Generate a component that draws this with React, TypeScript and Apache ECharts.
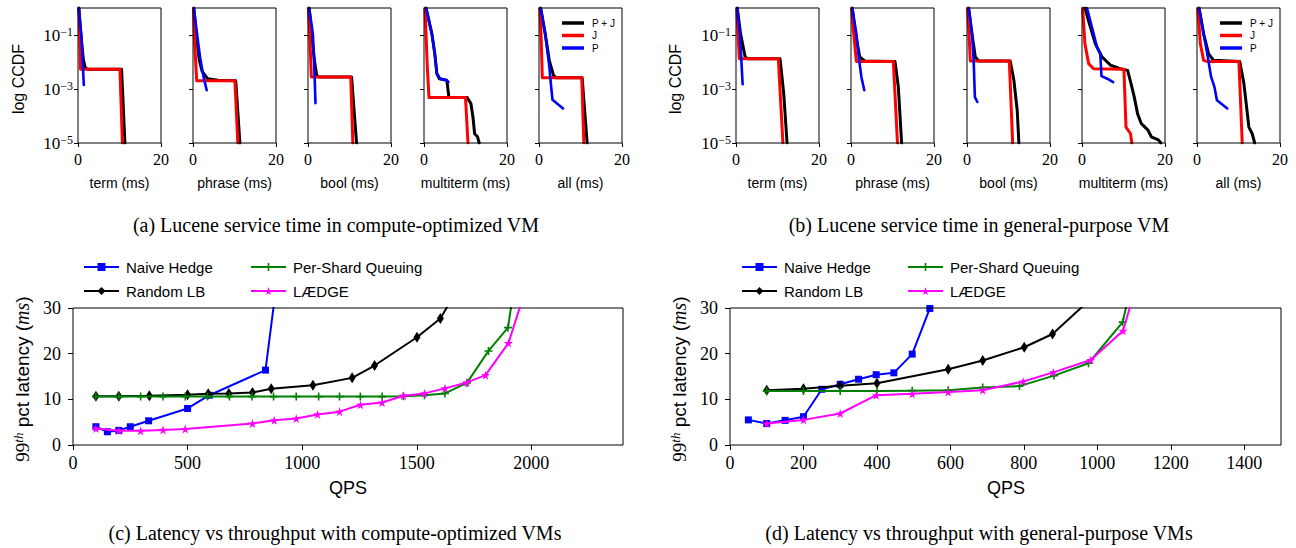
import React, { useEffect, useRef } from "react";
import * as echarts from "echarts";

// ---------- (a) compute-optimized VM : CCDF points [ms, probability] ----------
const aTermPJ = [[0.2, 1], [0.7, 0.1], [1.3, 0.012], [1.8, 0.0058], [2.5, 0.0054], [10.5, 0.0054], [11.3, 0.00001]];
const aTermJ = [[0.2, 1], [0.4, 0.1], [0.6, 0.0054], [10.1, 0.0054], [10.7, 0.00001]];
const aTermP = [[0.2, 1], [0.8, 0.1], [1.2, 0.006], [1.4, 0.0014]];

const aPhrasePJ = [[0.2, 1], [0.8, 0.1], [1.5, 0.012], [2.2, 0.0045], [3.5, 0.0024], [6, 0.0021], [10.3, 0.002], [11.3, 0.00001]];
const aPhraseJ = [[0.1, 1], [0.4, 0.05], [0.9, 0.002], [10.1, 0.002], [10.8, 0.00001]];
const aPhraseP = [[0.2, 1], [1.0, 0.1], [1.7, 0.015], [2.5, 0.003], [3.3, 0.0009]];

const aBoolPJ = [[0.25, 1], [0.9, 0.1], [1.6, 0.01], [2.1, 0.0032], [2.6, 0.0028], [10.5, 0.0028], [11.7, 0.00001]];
const aBoolJ = [[0.1, 1], [0.5, 0.05], [0.8, 0.0028], [10.3, 0.0028], [10.8, 0.00001]];
const aBoolP = [[0.3, 1], [1.2, 0.1], [1.6, 0.0028], [1.8, 0.0003]];

const aMultiPJ = [[0.5, 1], [1.9, 0.11], [2.6, 0.02], [3.1, 0.0037], [3.7, 0.0024], [5.5, 0.0021], [6.0, 0.0005], [10.4, 0.00048], [11.3, 0.00029], [11.8, 0.00009], [12.2, 0.000022], [12.9, 0.000017], [13.3, 0.00001]];
const aMultiJ = [[0.24, 1], [0.5, 0.1], [0.8, 0.0065], [1.2, 0.00048], [10.0, 0.00048], [10.6, 0.00001]];
const aMultiP = [[0.5, 1], [1.9, 0.11], [2.6, 0.02], [3.1, 0.0037], [3.9, 0.0024], [5.5, 0.0021], [5.9, 0.0018]];

const aAllPJ = [[0.4, 1], [1.5, 0.11], [2.5, 0.011], [3.5, 0.0032], [4.2, 0.0026], [10.4, 0.0026], [11.6, 0.00001]];
const aAllJ = [[0.2, 1], [0.5, 0.1], [0.8, 0.0026], [10.3, 0.0026], [10.8, 0.00001]];
const aAllP = [[0.4, 1], [1.5, 0.11], [2.5, 0.0065], [2.85, 0.0016], [3.25, 0.0004], [5.8, 0.00019]];

// ---------- (b) general-purpose VM ----------
const bTermPJ = [[0.3, 1], [1.1, 0.11], [2.2, 0.0155], [2.8, 0.0133], [10.6, 0.0133], [11.5, 0.00068], [12.3, 0.00001]];
const bTermJ = [[0.2, 1], [0.5, 0.1], [0.8, 0.0133], [10.2, 0.0133], [11.3, 0.00001]];
const bTermP = [[0.3, 1], [0.95, 0.11], [1.6, 0.0015]];

const bPhrasePJ = [[0.3, 1], [1.1, 0.11], [2.1, 0.0155], [3.3, 0.011], [10.6, 0.0105], [11.4, 0.0012], [12.2, 0.00001]];
const bPhraseJ = [[0.15, 1], [0.65, 0.11], [1.3, 0.0105], [10.2, 0.0105], [11.2, 0.00001]];
const bPhraseP = [[0.3, 1], [1.3, 0.11], [1.95, 0.012], [2.5, 0.0028], [3.2, 0.0009]];

const bBoolPJ = [[0.4, 1], [1.2, 0.11], [2.0, 0.0155], [2.8, 0.011], [10.4, 0.011], [11.3, 0.0021], [12.1, 0.00016], [12.5, 0.00001]];
const bBoolJ = [[0.15, 1], [0.5, 0.1], [0.8, 0.011], [10.2, 0.011], [11.0, 0.00001]];
const bBoolP = [[0.4, 1], [1.2, 0.11], [1.6, 0.012], [1.9, 0.0005], [2.5, 0.00033]];

const bMultiPJ = [[0.7, 1], [2.0, 0.2], [3.2, 0.048], [4.8, 0.0155], [6.9, 0.0076], [9.3, 0.0056], [11.0, 0.0049], [11.8, 0.0016], [12.6, 0.0005], [13.4, 0.00012], [14.3, 0.000052], [15.9, 0.00003], [16.7, 0.000017], [18.4, 0.000013], [19.0, 0.00001]];
const bMultiJ = [[0.15, 1], [0.7, 0.048], [1.6, 0.0087], [2.8, 0.0056], [10.1, 0.0054], [10.6, 0.000039], [11.7, 0.000022], [12.0, 0.00001]];
const bMultiP = [[1.2, 1], [2.8, 0.11], [3.6, 0.036], [4.4, 0.02], [4.7, 0.003], [6.1, 0.0024], [7.5, 0.0018]];

const bAllPJ = [[0.5, 1], [1.6, 0.11], [2.8, 0.02], [4.0, 0.0115], [10.3, 0.0105], [11.3, 0.0016], [12.5, 0.000039], [13.3, 0.000022], [13.9, 0.00001]];
const bAllJ = [[0.2, 1], [0.8, 0.048], [1.6, 0.0115], [2.4, 0.0105], [10.1, 0.0105], [10.9, 0.00001]];
const bAllP = [[0.5, 1], [1.6, 0.11], [2.6, 0.0155], [3.4, 0.0028], [4.2, 0.0012], [4.8, 0.00038], [7.3, 0.00019]];

// ---------- (c) latency vs QPS, compute-optimized ----------
const cHedgeQps = [100, 150, 200, 250, 330, 500, 595, 840, 900];
const cHedgeLat = [4.0, 2.9, 3.2, 4.0, 5.3, 8.0, 10.9, 16.4, 40];
const cRandomQps = [100, 200, 333, 500, 590, 680, 783, 865, 1047, 1218, 1316, 1501, 1603, 1700];
const cRandomLat = [10.7, 10.7, 10.8, 11.0, 11.2, 11.3, 11.5, 12.3, 13.1, 14.7, 17.4, 23.6, 27.7, 36];
const cShardQps = [100, 200, 295, 393, 490, 587, 683, 781, 875, 974, 1072, 1163, 1254, 1349, 1442, 1534, 1623, 1719, 1813, 1898, 1950];
const cShardLat = [10.6, 10.6, 10.6, 10.6, 10.6, 10.6, 10.6, 10.6, 10.6, 10.6, 10.6, 10.6, 10.6, 10.6, 10.7, 10.9, 11.3, 13.6, 20.6, 25.7, 43];
const cLaedgeQps = [100, 200, 295, 393, 490, 783, 878, 974, 1067, 1163, 1254, 1349, 1442, 1534, 1623, 1719, 1800, 1900, 2000];
const cLaedgeLat = [3.6, 3.1, 3.1, 3.3, 3.5, 4.7, 5.4, 5.8, 6.7, 7.3, 8.8, 9.3, 10.8, 11.3, 12.4, 13.7, 15.3, 22.3, 38];

// ---------- (d) latency vs QPS, general-purpose ----------
const dHedgeQps = [50, 100, 150, 200, 250, 300, 350, 398, 446, 496, 544, 600];
const dHedgeLat = [5.5, 4.7, 5.4, 6.2, 12.2, 13.3, 14.4, 15.4, 15.8, 19.9, 29.9, 60];
const dRandomQps = [100, 200, 300, 400, 594, 688, 801, 878, 1050];
const dRandomLat = [12.0, 12.3, 13.0, 13.5, 16.6, 18.5, 21.4, 24.3, 37];
const dShardQps = [100, 200, 300, 400, 496, 594, 688, 788, 882, 976, 1069, 1100];
const dShardLat = [11.8, 11.8, 11.8, 11.8, 11.9, 12.0, 12.6, 12.9, 15.2, 17.9, 26.9, 38];
const dLaedgeQps = [100, 200, 300, 398, 496, 594, 688, 798, 880, 982, 1070, 1110];
const dLaedgeLat = [4.7, 5.5, 6.9, 10.9, 11.2, 11.6, 12.0, 13.9, 15.9, 18.6, 25.0, 36];

// ---------- labels / ticks ----------
const panelNames = ["term (ms)", "phrase (ms)", "bool (ms)", "multiterm (ms)", "all (ms)"];
const ccdfNames = ["P + J", "J", "P"];
const latNames = ["Naive Hedge", "Random LB", "Per-Shard Queuing", "LÆDGE"];
const ccdfXTicks = [0, 20];
const ccdfYTicks = [1e-5, 1e-3, 1e-1];
const cXTicks = [0, 500, 1000, 1500, 2000];
const dXTicks = [0, 200, 400, 600, 800, 1000, 1200, 1400];
const captions = [
  "(a) Lucene service time in compute-optimized VM",
  "(b) Lucene service time in general-purpose VM",
  "(c) Latency vs throughput with compute-optimized VMs",
  "(d) Latency vs throughput with general-purpose VMs",
];

const aPanels = [
  [aTermPJ, aTermJ, aTermP],
  [aPhrasePJ, aPhraseJ, aPhraseP],
  [aBoolPJ, aBoolJ, aBoolP],
  [aMultiPJ, aMultiJ, aMultiP],
  [aAllPJ, aAllJ, aAllP],
];
const bPanels = [
  [bTermPJ, bTermJ, bTermP],
  [bPhrasePJ, bPhraseJ, bPhraseP],
  [bBoolPJ, bBoolJ, bBoolP],
  [bMultiPJ, bMultiJ, bMultiP],
  [bAllPJ, bAllJ, bAllP],
];

const SERIF = "'Liberation Serif', 'DejaVu Serif', serif";
const SANS = "'Liberation Sans', 'DejaVu Sans', sans-serif";

const zip = (xs: number[], ys: number[]) => xs.map((x, i) => [x, ys[i]]);

const plusPath = "path://M4,0H6V4H10V6H6V10H4V6H0V4H4Z";
const starPath = "path://M5,0L6.18,3.6L10,3.6L6.9,5.9L8.1,9.5L5,7.3L1.9,9.5L3.1,5.9L0,3.6L3.82,3.6Z";

function buildOption() {
  const grid: any[] = [];
  const xAxis: any[] = [];
  const yAxis: any[] = [];
  const series: any[] = [];
  const graphic: any[] = [];

  const ccdfColors = ["#000000", "#ff0000", "#0000ff"];
  const ccdfWidths = [3, 3, 2.6];

  const addCcdf = (left: number, data: number[][][], showY: boolean, name: string) => {
    const gi = grid.length;
    grid.push({ left, top: 8, width: 83, height: 135, show: true, borderColor: "#000", borderWidth: 1, backgroundColor: "transparent", z: 5 });
    xAxis.push({
      gridIndex: gi, type: "value", min: 0, max: 20,
      splitLine: { show: false }, axisLine: { show: false },
      axisTick: { show: true, length: 4, lineStyle: { color: "#000", width: 1 }, customValues: ccdfXTicks },
      axisLabel: { customValues: ccdfXTicks, margin: 8, color: "#000", fontFamily: SERIF, fontSize: 16, formatter: (v: number) => String(v) },
    });
    yAxis.push({
      gridIndex: gi, type: "log", logBase: 10, min: 1e-5, max: 1,
      splitLine: { show: false }, axisLine: { show: false },
      axisTick: { show: true, length: 4, lineStyle: { color: "#000", width: 1 }, customValues: ccdfYTicks },
      axisLabel: {
        show: showY, customValues: ccdfYTicks, margin: 5, color: "#000",
        formatter: (v: number) => `{a|10}{b|−${-Math.round(Math.log10(v))}}`,
        rich: {
          a: { fontFamily: SERIF, fontSize: 17, lineHeight: 19, color: "#000" },
          b: { fontFamily: SERIF, fontSize: 12, lineHeight: 12, verticalAlign: "top", color: "#000" },
        },
      },
    });
    data.forEach((d, k) => {
      series.push({
        type: "line", name: ccdfNames[k], xAxisIndex: gi, yAxisIndex: gi, data: d,
        symbol: "none", silent: true, z: 2 + k,
        lineStyle: { color: ccdfColors[k], width: ccdfWidths[k], join: "round", cap: "round" },
        itemStyle: { color: ccdfColors[k] },
      });
    });
    graphic.push({ type: "text", x: left + 41.5, y: 183, style: { text: name, fontFamily: SANS, fontSize: 14, fill: "#000", align: "center", verticalAlign: "middle" } });
  };

  const aLefts = [78, 193, 308, 424, 539];
  const bLefts = [736, 851, 967, 1082, 1197];
  aPanels.forEach((p, i) => addCcdf(aLefts[i], p, i === 0, panelNames[i]));
  bPanels.forEach((p, i) => addCcdf(bLefts[i], p, i === 0, panelNames[i]));

  const latStyles = [
    { color: "#0000ff", symbol: "rect", symbolSize: 7 },
    { color: "#000000", symbol: "diamond", symbolSize: [7, 11] },
    { color: "#008000", symbol: plusPath, symbolSize: 8 },
    { color: "#ff00ff", symbol: starPath, symbolSize: 9 },
  ];

  const addLatency = (left: number, width: number, xmax: number, xticks: number[], sets: number[][][]) => {
    const gi = grid.length;
    grid.push({ left, top: 308, width, height: 137, show: true, borderColor: "#000", borderWidth: 1, backgroundColor: "transparent", z: 5 });
    xAxis.push({
      gridIndex: gi, type: "value", min: 0, max: xmax,
      splitLine: { show: false }, axisLine: { show: false },
      axisTick: { show: true, length: 5, lineStyle: { color: "#000", width: 1 }, customValues: xticks },
      axisLabel: { customValues: xticks, margin: 9, color: "#000", fontFamily: SERIF, fontSize: 18, formatter: (v: number) => String(v) },
    });
    yAxis.push({
      gridIndex: gi, type: "value", min: 0, max: 30, interval: 10,
      splitLine: { show: false }, axisLine: { show: false },
      axisTick: { show: true, length: 5, lineStyle: { color: "#000", width: 1 } },
      axisLabel: { margin: 12, color: "#000", fontFamily: SERIF, fontSize: 18, formatter: (v: number) => String(v) },
    });
    sets.forEach((d, k) => {
      const s = latStyles[k];
      series.push({
        type: "line", name: latNames[k], xAxisIndex: gi, yAxisIndex: gi, data: d,
        symbol: s.symbol, symbolSize: s.symbolSize, showAllSymbol: true, silent: true, clip: true, z: 2 + k,
        lineStyle: { color: s.color, width: 2 },
        itemStyle: { color: s.color, borderWidth: 0 },
      });
    });
  };

  addLatency(73, 550, 2400, cXTicks, [zip(cHedgeQps, cHedgeLat), zip(cRandomQps, cRandomLat), zip(cShardQps, cShardLat), zip(cLaedgeQps, cLaedgeLat)]);
  addLatency(730, 551, 1500, dXTicks, [zip(dHedgeQps, dHedgeLat), zip(dRandomQps, dRandomLat), zip(dShardQps, dShardLat), zip(dLaedgeQps, dLaedgeLat)]);

  // y names for CCDF
  [18, 675].forEach((x) => {
    graphic.push({ type: "text", x, y: 79, rotation: Math.PI / 2, style: { text: "log CCDF", fontFamily: SANS, fontSize: 16, fill: "#000", align: "center", verticalAlign: "middle" } });
  });
  // y names for latency
  [22, 679].forEach((x) => {
    graphic.push({
      type: "text", x, y: 379, rotation: Math.PI / 2,
      style: {
        text: "{n|99}{s|th}{t| pct latency (}{i|ms}{t|)}",
        align: "center", verticalAlign: "middle", fill: "#000",
        rich: {
          n: { fontFamily: SERIF, fontSize: 19, lineHeight: 21, fill: "#000" },
          s: { fontFamily: SERIF, fontStyle: "italic", fontSize: 13, lineHeight: 13, verticalAlign: "top", fill: "#000" },
          t: { fontFamily: SANS, fontSize: 19, lineHeight: 21, fill: "#000" },
          i: { fontFamily: SERIF, fontStyle: "italic", fontSize: 20, lineHeight: 21, fill: "#000" },
        },
      },
    });
  });
  // QPS
  [348, 1006].forEach((x) => {
    graphic.push({ type: "text", x, y: 488, style: { text: "QPS", fontFamily: SANS, fontSize: 18, fill: "#000", align: "center", verticalAlign: "middle" } });
  });
  // captions
  const capPos = [[336, 225], [979, 225], [335, 533], [979, 533]];
  captions.forEach((c, i) => {
    graphic.push({ type: "text", x: capPos[i][0], y: capPos[i][1], style: { text: c, fontFamily: SERIF, fontSize: 20, fill: "#000", align: "center", verticalAlign: "middle" } });
  });

  const ccdfLegend = (left: number) => ({
    data: ccdfNames, orient: "vertical", left, top: 12, icon: "rect", itemWidth: 22, itemHeight: 3.5, itemGap: 0.5,
    selectedMode: false,
    textStyle: { fontFamily: SANS, fontSize: 10, lineHeight: 12, color: "#000", padding: [0, 0, 0, 3] },
  });
  const latLegend = (left: number, names: string[]) => ({
    data: names, orient: "vertical", left, top: 254, itemWidth: 35, itemHeight: 10, itemGap: 8,
    selectedMode: false,
    textStyle: { fontFamily: SANS, fontSize: 15, lineHeight: 16, color: "#000", padding: [0, 0, 0, 2] },
  });

  return {
    animation: false,
    backgroundColor: "#ffffff",
    grid, xAxis, yAxis, series, graphic,
    legend: [
      ccdfLegend(557),
      ccdfLegend(1215),
      latLegend(78, [latNames[0], latNames[1]]),
      latLegend(245, [latNames[2], latNames[3]]),
      latLegend(736, [latNames[0], latNames[1]]),
      latLegend(902, [latNames[2], latNames[3]]),
    ],
  };
}

export default function App() {
  const ref = useRef<HTMLDivElement>(null);
  useEffect(() => {
    if (!ref.current) return;
    const chart = echarts.init(ref.current, null, { renderer: "svg" });
    chart.setOption(buildOption() as any);
    return () => chart.dispose();
  }, []);
  return <div ref={ref} style={{ position: "absolute", left: 0, top: 0, width: 1296, height: 548, background: "#fff" }} />;
}
